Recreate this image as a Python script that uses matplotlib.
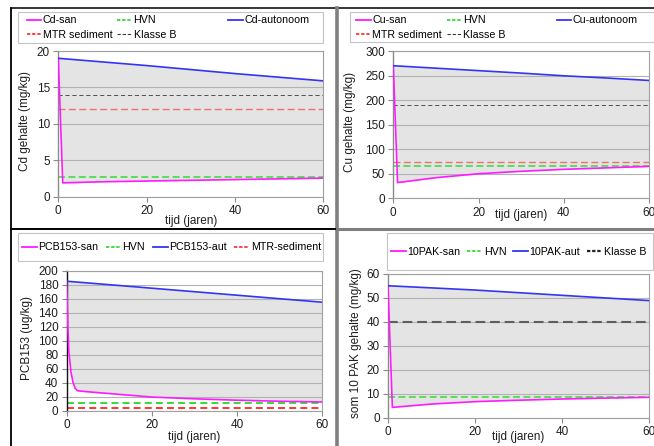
import matplotlib
matplotlib.use('Agg')
import matplotlib.pyplot as plt
from matplotlib.lines import Line2D
from matplotlib.patches import Rectangle

plt.rcParams['font.family'] = ['Liberation Sans', 'DejaVu Sans']
plt.rcParams['lines.scale_dashes'] = False

# --- data ---
cd_years = [0, 1, 10, 20, 30, 40, 50, 60]
cd_san = [19.0, 1.9, 2.05, 2.15, 2.25, 2.35, 2.45, 2.55]
cd_aut = [19.0, 18.95, 18.5, 18.0, 17.45, 16.9, 16.4, 15.9]
cd_hvn = 2.75
cd_mtr = 12.0
cd_klasse_b = 14.0

cu_years = [0, 1, 10, 20, 30, 40, 50, 60]
cu_san = [270, 32, 42, 50, 55, 59, 62, 65]
cu_aut = [270, 269.5, 265, 260, 255, 249.5, 245, 240]
cu_hvn = 66
cu_mtr = 73
cu_klasse_b = 190

pcb_years = [0, 0.25, 0.5, 1, 1.5, 2, 2.5, 5, 10, 20, 30, 40, 50, 60]
pcb_san = [185, 125, 85, 55, 40, 32, 28.5, 27, 24.5, 19.5, 17, 15, 13.5, 12.5]
pcb_aut = [185, 184.9, 184.7, 184.5, 184.2, 184, 183.7, 182.5, 180, 175, 170, 165, 160, 155]
pcb_hvn = 11.5
pcb_mtr = 4

pak_years = [0, 1, 10, 20, 30, 40, 50, 60]
pak_san = [55, 4.3, 5.7, 6.7, 7.3, 7.8, 8.2, 8.5]
pak_aut = [55.1, 55.0, 54.2, 53.3, 52.2, 51.1, 50.0, 48.9]
pak_hvn = 8.5
pak_klasse_b = 40

x_ticks = [0, 20, 40, 60]

PINK = '#ff1aff'
BLUE = '#3434f2'
GREEN = '#33dd33'
RED = '#ff3535'
DARK = '#3c3c3c'

W, H = 654, 446
fig = plt.figure(figsize=(W / 100, H / 100), dpi=100)


def fx(x):
    return x / W


def fy(y):
    return 1 - y / H


def panel(l, t, r, b, years, san, aut, refs, ymax, ystep, ylabel, ylab_x, xlab_y, left_col='#8a8a8a'):
    ax = fig.add_axes([fx(l), fy(b), (r - l) / W, (b - t) / H])
    ax.fill_between(years, san, aut, color='#e4e4e4', lw=0, zorder=1)
    for val, col, lw, dash in refs:
        ax.plot(years, [val] * len(years), color=col, lw=lw, dashes=dash, zorder=2)
    ax.plot(years, san, color=PINK, lw=1.2, zorder=3)
    ax.plot(years, aut, color=BLUE, lw=1.2, zorder=3)
    ax.set_xlim(0, 60)
    ax.set_ylim(0, ymax)
    ax.set_xticks(x_ticks)
    ax.set_yticks(range(0, ymax + 1, ystep))
    ax.grid(axis='y', color='#b2b2b2', lw=0.8)
    ax.set_axisbelow('line')
    for s in ['top', 'right', 'bottom']:
        ax.spines[s].set_color('#a0a0a0')
        ax.spines[s].set_linewidth(0.8)
    ax.spines['left'].set_color(left_col)
    ax.spines['left'].set_linewidth(1.0)
    ax.tick_params(labelsize=8.5, labelcolor='#1e1e1e', length=3.5, width=0.8,
                   color='#8a8a8a', pad=2.5)
    ax.set_ylabel(ylabel, fontsize=8.5, color='#1e1e1e')
    ax.yaxis.set_label_coords(ylab_x, 0.52)
    ax.set_xlabel('tijd (jaren)', fontsize=8.5, color='#1e1e1e')
    ax.xaxis.set_label_coords(0.5, xlab_y)
    return ax


def frame(l, t, r, b):
    fig.add_artist(Rectangle((fx(l), fy(b)), (r - l) / W, (b - t) / H,
                             transform=fig.transFigure, fill=False,
                             edgecolor='#c4c4c4', lw=0.8))


def legend_left(x, yc, handles, labels, ncol):
    fig.legend(handles, labels, loc='center left', ncol=ncol,
               bbox_to_anchor=(fx(x), fy(yc)),
               frameon=False, fontsize=7.7, handlelength=1.4, handletextpad=0.12,
               borderaxespad=0, borderpad=0, labelspacing=0.38, columnspacing=0.45)


def legend_row(l, t, r, b, handles, labels):
    fig.legend(handles, labels, loc='center', ncol=len(labels), mode='expand',
               bbox_to_anchor=(fx(l), fy(b), (r - l) / W, (b - t) / H),
               frameon=False, fontsize=7.7, handlelength=1.4, handletextpad=0.12,
               borderaxespad=0, borderpad=0, columnspacing=0.3)


def solid(c):
    return Line2D([], [], color=c, lw=1.3)


def dashed(c, lw=1.3):
    return Line2D([], [], color=c, lw=lw, dashes=(2.4, 1.3))


# --- Cd ---
panel(58.3, 51, 323.3, 196.7, cd_years, cd_san, cd_aut,
      [(cd_hvn, GREEN, 1.1, (5, 2.5)), (cd_mtr, '#f07070', 1.0, (5, 2.5)),
       (cd_klasse_b, '#505050', 0.7, (3, 2))],
      20, 5, 'Cd gehalte (mg/kg)', -0.103, -0.125)
frame(18, 12, 323, 43)
legend_left(26.5, 27.5, [solid(PINK), dashed(RED), dashed(GREEN), dashed(DARK, 0.8)],
            ['Cd-san', 'MTR sediment', 'HVN', 'Klasse B'], 2)
legend_left(228, 27.5, [solid(BLUE), Line2D([], [], lw=0)], ['Cd-autonoom', ' '], 1)

# --- Cu ---
panel(393.3, 51, 649, 198.3, cu_years, cu_san, cu_aut,
      [(cu_hvn, GREEN, 1.1, (5, 2.5)), (cu_mtr, '#f07070', 1.0, (5, 2.5)),
       (cu_klasse_b, '#505050', 0.7, (3, 2))],
      300, 50, 'Cu gehalte (mg/kg)', -0.146, -0.07)
frame(350, 12, 654, 42)
legend_left(356, 27.5, [solid(PINK), dashed(RED), dashed(GREEN), dashed(DARK, 0.8)],
            ['Cu-san', 'MTR sediment', 'HVN', 'Klasse B'], 2)
legend_left(556.5, 27.5, [solid(BLUE), Line2D([], [], lw=0)], ['Cu-autonoom', ' '], 1)

# --- PCB153 ---
panel(66.7, 270.7, 322, 410.7, pcb_years, pcb_san, pcb_aut,
      [(pcb_hvn, GREEN, 1.4, (5, 3)), (pcb_mtr, RED, 1.4, (5, 3))],
      200, 20, 'PCB153 (ug/kg)', -0.132, -0.148, left_col='#111111')
frame(18, 233, 323, 261)
legend_row(22, 233, 321, 262, [solid(PINK), dashed(GREEN), solid(BLUE), dashed(RED)],
           ['PCB153-san', 'HVN', 'PCB153-aut', 'MTR-sediment'])

# --- 10 PAK ---
panel(388, 274, 649, 417.7, pak_years, pak_san, pak_aut,
      [(pak_hvn, GREEN, 1.1, (5, 2.5)), (pak_klasse_b, '#5e5e5e', 1.5, (7, 3.5))],
      60, 10, 'som 10 PAK gehalte (mg/kg)', -0.1, -0.095)
frame(387, 233, 653, 270)
legend_row(391, 234, 646, 270, [solid(PINK), dashed(GREEN), solid(BLUE), dashed('#222222', 1.6)],
           ['10PAK-san', 'HVN', '10PAK-aut', 'Klasse B'])

# --- table borders of the document ---
def rule(x0, y0, x1, y1, c, lw):
    fig.add_artist(Line2D([fx(x0), fx(x1)], [fy(y0), fy(y1)],
                          transform=fig.transFigure, color=c, lw=lw))


rule(11, 8, 654, 8, '#000000', 1.1)
rule(11, 8, 11, 446, '#000000', 1.3)
rule(336.5, 8, 336.5, 446, '#7f7f7f', 2.6)
rule(11, 229.3, 335, 229.3, '#000000', 1.4)
rule(338, 229.3, 654, 229.3, '#7f7f7f', 2.2)

fig.savefig('out.png', dpi=100)
